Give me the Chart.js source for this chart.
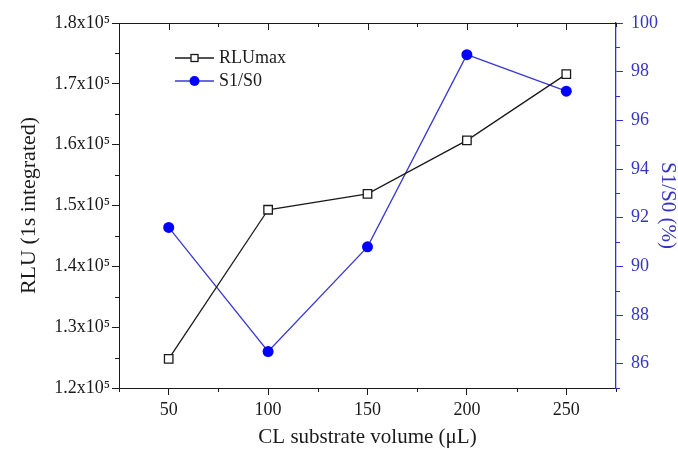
<!DOCTYPE html>
<html>
<head>
<meta charset="utf-8">
<script src="https://cdn.jsdelivr.net/npm/chart.js@4.4.1/dist/chart.umd.min.js"></script>
<style>
  html, body { margin: 0; padding: 0; background: #fff; }
  #wrap { width: 678px; height: 450px; }
</style>
</head>
<body>
<div id="wrap"><canvas id="rluChart"></canvas></div>
<script>
// ---- data ----
const volumes = [50, 100, 150, 200, 250];                     // CL substrate volume (uL)
const rluMax  = [124800, 149300, 151900, 160700, 171600];     // RLU (1s integrated)
const s1s0    = [91.6, 86.5, 90.8, 98.7, 97.2];               // S1/S0 (%)

const rluLabel = "RLUmax";
const ratioLabel = "S1/S0";

// ---- look ----
const serif = "'Liberation Serif', 'Times New Roman', serif";
const black = "#1a1a1a";
const blueLine = "#3a3ad2";
const bluePoint = "#0000ff";
const blueAxis = "#2f2fe0";
const blueText = "#3535c4";

Chart.defaults.font.family = serif;
Chart.defaults.color = black;

// minor ticks, top frame with inward ticks
const frameTicks = {
  id: "frameTicks",
  afterDraw(chart){
    const {ctx, chartArea:a, scales} = chart;
    ctx.save();
    ctx.lineWidth = 1;
    ctx.strokeStyle = black;
    ctx.beginPath();
    ctx.moveTo(a.left, a.top + 0.5);
    ctx.lineTo(a.right, a.top + 0.5);
    scales.x.ticks.forEach(t=>{
      const px = Math.round(scales.x.getPixelForValue(t.value)) + 0.5;
      const major = t.value % 50 === 0;
      ctx.moveTo(px, a.top);
      ctx.lineTo(px, a.top + (major ? 7 : 4));
      if(!major){
        ctx.moveTo(px, a.bottom);
        ctx.lineTo(px, a.bottom + 4);
      }
    });
    scales.y.ticks.forEach(t=>{
      if(t.value % 10000 === 0) return;
      const py = Math.round(scales.y.getPixelForValue(t.value)) + 0.5;
      ctx.moveTo(a.left, py);
      ctx.lineTo(a.left - 4, py);
    });
    ctx.stroke();

    ctx.strokeStyle = blueAxis;
    ctx.beginPath();
    scales.y1.ticks.forEach(t=>{
      if(t.value % 2 === 0) return;
      const py = Math.round(scales.y1.getPixelForValue(t.value)) + 0.5;
      ctx.moveTo(a.right, py);
      ctx.lineTo(a.right + 4, py);
    });
    ctx.stroke();
    ctx.restore();
  }
};

// legend inside the plot: line - marker - line, then label
const insideLegend = {
  id: "insideLegend",
  afterDraw(chart){
    const {ctx, chartArea:a} = chart;
    ctx.save();
    ctx.font = "18px " + serif;
    ctx.textBaseline = "middle";
    chart.data.datasets.forEach((ds, i)=>{
      const y = a.top + 35 + i * 23;
      const x0 = a.left + 56, x1 = a.left + 95, xm = (x0 + x1) / 2;
      ctx.strokeStyle = ds.borderColor;
      ctx.lineWidth = ds.borderWidth;
      ctx.beginPath();
      ctx.moveTo(x0, y); ctx.lineTo(x1, y);
      ctx.stroke();
      ctx.fillStyle = ds.pointBackgroundColor;
      ctx.strokeStyle = ds.pointBorderColor;
      ctx.lineWidth = 1.3;
      if(ds.pointStyle === "rect"){
        ctx.fillRect(xm - 3.5, y - 3.5, 7, 7);
        ctx.strokeRect(xm - 3.5, y - 3.5, 7, 7);
      } else {
        ctx.beginPath();
        ctx.arc(xm, y, 5, 0, Math.PI * 2);
        ctx.fill();
      }
      ctx.fillStyle = black;
      ctx.fillText(ds.label, x1 + 5, y);
    });
    ctx.restore();
  }
};

const rluPoints = volumes.map((v, i)=>({x: v, y: rluMax[i]}));
const ratioPoints = volumes.map((v, i)=>({x: v, y: s1s0[i]}));

new Chart(document.getElementById("rluChart"), {
  type: "line",
  data: {
    datasets: [{
      label: rluLabel,
      data: rluPoints,
      yAxisID: "y",
      borderColor: black,
      borderWidth: 1.3,
      pointStyle: "rect",
      pointRadius: 6,
      pointBackgroundColor: "#ffffff",
      pointBorderColor: black,
      pointBorderWidth: 1.3,
      tension: 0
    },{
      label: ratioLabel,
      data: ratioPoints,
      yAxisID: "y1",
      borderColor: blueLine,
      borderWidth: 1.3,
      pointStyle: "circle",
      pointRadius: 5.5,
      pointBackgroundColor: bluePoint,
      pointBorderColor: bluePoint,
      pointBorderWidth: 0,
      tension: 0
    }]
  },
  options: {
    responsive: true,
    maintainAspectRatio: false,
    animation: false,
    layout: { padding: { top: 23, left: 0, right: 0, bottom: 0 } },
    plugins: {
      legend: { display: false },
      tooltip: { enabled: false }
    },
    scales: {
      x: {
        type: "linear",
        min: 25, max: 275,
        afterFit(s){ s.height = 62; },
        ticks: {
          stepSize: 25,
          autoSkip: false,
          maxRotation: 0,
          padding: 4,
          font: { size: 18 },
          color: black,
          callback: v => v % 50 === 0 ? String(v) : ""
        },
        grid: {
          drawOnChartArea: false,
          tickLength: 7,
          tickColor: c => c.tick && c.tick.value % 50 === 0 ? black : "rgba(0,0,0,0)"
        },
        border: { color: black, width: 1 },
        title: {
          display: true,
          text: "CL substrate volume (μL)",
          font: { size: 21 },
          color: black,
          padding: { top: 0, bottom: 0 }
        }
      },
      y: {
        position: "left",
        min: 120000, max: 180000,
        afterFit(s){ s.width = 119; },
        ticks: {
          stepSize: 5000,
          autoSkip: false,
          padding: 2,
          font: { size: 18 },
          color: black,
          callback: v => v % 10000 === 0 ? (v / 100000).toFixed(1) + "x10\u2075" : ""
        },
        grid: {
          drawOnChartArea: false,
          tickLength: 7,
          tickColor: c => c.tick && c.tick.value % 10000 === 0 ? black : "rgba(0,0,0,0)"
        },
        border: { color: black, width: 1 },
        title: {
          display: true,
          text: "RLU (1s integrated)",
          font: { size: 22 },
          color: black,
          padding: { top: 16, bottom: 0 }
        }
      },
      y1: {
        position: "right",
        min: 85, max: 100,
        afterFit(s){ s.width = 62; },
        ticks: {
          stepSize: 1,
          autoSkip: false,
          padding: 8,
          font: { size: 18 },
          color: blueText,
          callback: v => v % 2 === 0 ? String(v) : ""
        },
        grid: {
          drawOnChartArea: false,
          tickLength: 7,
          tickColor: c => c.tick && c.tick.value % 2 === 0 ? blueAxis : "rgba(0,0,0,0)"
        },
        border: { color: blueAxis, width: 1.3 },
        title: {
          display: true,
          text: "S1/S0 (%)",
          font: { size: 21, lineHeight: 1 },
          color: blueText,
          padding: { top: 0, bottom: 0 }
        }
      }
    }
  },
  plugins: [frameTicks, insideLegend]
});
</script>
</body>
</html>
